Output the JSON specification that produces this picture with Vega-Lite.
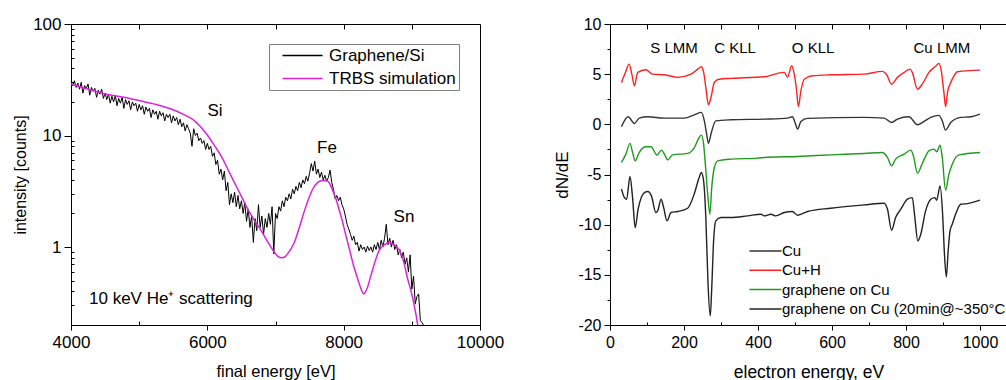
{
"$schema": "https://vega.github.io/schema/vega-lite/v6.json",
"padding": {"left": 12, "top": 14, "right": 0, "bottom": 0},
"bounds": "flush",
"spacing": 130,
"resolve": {"scale": {"color": "independent"}, "legend": {"color": "independent"}},
"config": {"font": "Liberation Sans", "view": {"stroke": null},
 "axis": {"labelColor": "black", "tickColor": "black", "domainColor": "black", "titleColor": "black", "titleFontWeight": "normal", "grid": false, "labelFont": "Liberation Sans", "titleFont": "Liberation Sans", "labelOverlap": false, "labelFlush": false},
 "legend": {"labelFont": "Liberation Sans", "labelColor": "black"}},
"datasets": {
"graphene": [
{"e":4000,"v":30,"s":"Graphene/Si"},{"e":4025,"v":28,"s":"Graphene/Si"},{"e":4050,"v":31,"s":"Graphene/Si"},{"e":4075,"v":27,"s":"Graphene/Si"},{"e":4100,"v":29.5,"s":"Graphene/Si"},{"e":4125,"v":26,"s":"Graphene/Si"},{"e":4150,"v":30,"s":"Graphene/Si"},{"e":4175,"v":24,"s":"Graphene/Si"},{"e":4200,"v":28,"s":"Graphene/Si"},{"e":4225,"v":26.5,"s":"Graphene/Si"},
{"e":4250,"v":29,"s":"Graphene/Si"},{"e":4275,"v":23,"s":"Graphene/Si"},{"e":4300,"v":27,"s":"Graphene/Si"},{"e":4325,"v":25,"s":"Graphene/Si"},{"e":4350,"v":26.5,"s":"Graphene/Si"},{"e":4375,"v":22,"s":"Graphene/Si"},{"e":4400,"v":25.5,"s":"Graphene/Si"},{"e":4425,"v":23.5,"s":"Graphene/Si"},{"e":4450,"v":26,"s":"Graphene/Si"},{"e":4475,"v":21.5,"s":"Graphene/Si"},
{"e":4500,"v":24,"s":"Graphene/Si"},{"e":4525,"v":21,"s":"Graphene/Si"},{"e":4550,"v":23.5,"s":"Graphene/Si"},{"e":4575,"v":19.5,"s":"Graphene/Si"},{"e":4600,"v":22.5,"s":"Graphene/Si"},{"e":4625,"v":20,"s":"Graphene/Si"},{"e":4650,"v":23,"s":"Graphene/Si"},{"e":4675,"v":18.5,"s":"Graphene/Si"},{"e":4700,"v":21.5,"s":"Graphene/Si"},{"e":4725,"v":19.5,"s":"Graphene/Si"},
{"e":4750,"v":22,"s":"Graphene/Si"},{"e":4775,"v":17.5,"s":"Graphene/Si"},{"e":4800,"v":21,"s":"Graphene/Si"},{"e":4825,"v":19,"s":"Graphene/Si"},{"e":4850,"v":20.5,"s":"Graphene/Si"},{"e":4875,"v":17,"s":"Graphene/Si"},{"e":4900,"v":20,"s":"Graphene/Si"},{"e":4925,"v":18.5,"s":"Graphene/Si"},{"e":4950,"v":19.5,"s":"Graphene/Si"},{"e":4975,"v":16.5,"s":"Graphene/Si"},
{"e":5000,"v":19,"s":"Graphene/Si"},{"e":5025,"v":17,"s":"Graphene/Si"},{"e":5050,"v":18.5,"s":"Graphene/Si"},{"e":5075,"v":15.5,"s":"Graphene/Si"},{"e":5100,"v":18,"s":"Graphene/Si"},{"e":5125,"v":16.5,"s":"Graphene/Si"},{"e":5150,"v":17.5,"s":"Graphene/Si"},{"e":5175,"v":14.5,"s":"Graphene/Si"},{"e":5200,"v":17,"s":"Graphene/Si"},{"e":5225,"v":15.5,"s":"Graphene/Si"},
{"e":5250,"v":16.5,"s":"Graphene/Si"},{"e":5275,"v":14,"s":"Graphene/Si"},{"e":5300,"v":16.5,"s":"Graphene/Si"},{"e":5325,"v":15,"s":"Graphene/Si"},{"e":5350,"v":16,"s":"Graphene/Si"},{"e":5375,"v":13.5,"s":"Graphene/Si"},{"e":5400,"v":15.5,"s":"Graphene/Si"},{"e":5425,"v":14.5,"s":"Graphene/Si"},{"e":5450,"v":15.5,"s":"Graphene/Si"},{"e":5475,"v":13,"s":"Graphene/Si"},
{"e":5500,"v":15,"s":"Graphene/Si"},{"e":5525,"v":13.5,"s":"Graphene/Si"},{"e":5550,"v":14.5,"s":"Graphene/Si"},{"e":5575,"v":12.5,"s":"Graphene/Si"},{"e":5600,"v":14,"s":"Graphene/Si"},{"e":5625,"v":12,"s":"Graphene/Si"},{"e":5650,"v":13,"s":"Graphene/Si"},{"e":5675,"v":11,"s":"Graphene/Si"},{"e":5700,"v":12.5,"s":"Graphene/Si"},{"e":5725,"v":11.5,"s":"Graphene/Si"},
{"e":5750,"v":10.5,"s":"Graphene/Si"},{"e":5775,"v":8,"s":"Graphene/Si"},{"e":5800,"v":11.5,"s":"Graphene/Si"},{"e":5825,"v":10,"s":"Graphene/Si"},{"e":5850,"v":10.5,"s":"Graphene/Si"},{"e":5875,"v":9,"s":"Graphene/Si"},{"e":5900,"v":9.5,"s":"Graphene/Si"},{"e":5925,"v":8.5,"s":"Graphene/Si"},{"e":5950,"v":9,"s":"Graphene/Si"},{"e":5975,"v":7.5,"s":"Graphene/Si"},
{"e":6000,"v":8.5,"s":"Graphene/Si"},{"e":6025,"v":7.5,"s":"Graphene/Si"},{"e":6050,"v":8,"s":"Graphene/Si"},{"e":6075,"v":6.5,"s":"Graphene/Si"},{"e":6100,"v":7,"s":"Graphene/Si"},{"e":6125,"v":5.5,"s":"Graphene/Si"},{"e":6150,"v":6,"s":"Graphene/Si"},{"e":6175,"v":4.5,"s":"Graphene/Si"},{"e":6200,"v":5,"s":"Graphene/Si"},{"e":6225,"v":4,"s":"Graphene/Si"},
{"e":6250,"v":4.8,"s":"Graphene/Si"},{"e":6275,"v":3.2,"s":"Graphene/Si"},{"e":6300,"v":3.8,"s":"Graphene/Si"},{"e":6325,"v":2.4,"s":"Graphene/Si"},{"e":6350,"v":3.0,"s":"Graphene/Si"},{"e":6375,"v":2.5,"s":"Graphene/Si"},{"e":6400,"v":3.1,"s":"Graphene/Si"},{"e":6425,"v":2.3,"s":"Graphene/Si"},{"e":6450,"v":2.9,"s":"Graphene/Si"},{"e":6475,"v":2.2,"s":"Graphene/Si"},
{"e":6500,"v":2.6,"s":"Graphene/Si"},{"e":6525,"v":2.0,"s":"Graphene/Si"},{"e":6550,"v":2.5,"s":"Graphene/Si"},{"e":6575,"v":1.7,"s":"Graphene/Si"},{"e":6600,"v":2.2,"s":"Graphene/Si"},{"e":6625,"v":1.5,"s":"Graphene/Si"},{"e":6650,"v":1.9,"s":"Graphene/Si"},{"e":6675,"v":1.1,"s":"Graphene/Si"},{"e":6700,"v":1.8,"s":"Graphene/Si"},{"e":6725,"v":1.4,"s":"Graphene/Si"},
{"e":6750,"v":2.4,"s":"Graphene/Si"},{"e":6775,"v":1.5,"s":"Graphene/Si"},{"e":6800,"v":1.9,"s":"Graphene/Si"},{"e":6825,"v":1.3,"s":"Graphene/Si"},{"e":6850,"v":1.8,"s":"Graphene/Si"},{"e":6875,"v":1.5,"s":"Graphene/Si"},{"e":6900,"v":2.0,"s":"Graphene/Si"},{"e":6925,"v":1.6,"s":"Graphene/Si"},{"e":6950,"v":2.3,"s":"Graphene/Si"},{"e":6975,"v":0.87,"s":"Graphene/Si"},
{"e":7000,"v":2.0,"s":"Graphene/Si"},{"e":7025,"v":1.8,"s":"Graphene/Si"},{"e":7050,"v":2.3,"s":"Graphene/Si"},{"e":7075,"v":2.1,"s":"Graphene/Si"},{"e":7100,"v":2.6,"s":"Graphene/Si"},{"e":7125,"v":2.3,"s":"Graphene/Si"},{"e":7150,"v":2.8,"s":"Graphene/Si"},{"e":7175,"v":2.6,"s":"Graphene/Si"},{"e":7200,"v":3.0,"s":"Graphene/Si"},{"e":7225,"v":2.7,"s":"Graphene/Si"},
{"e":7250,"v":3.3,"s":"Graphene/Si"},{"e":7275,"v":3.0,"s":"Graphene/Si"},{"e":7300,"v":3.5,"s":"Graphene/Si"},{"e":7325,"v":3.2,"s":"Graphene/Si"},{"e":7350,"v":3.8,"s":"Graphene/Si"},{"e":7375,"v":3.4,"s":"Graphene/Si"},{"e":7400,"v":4.0,"s":"Graphene/Si"},{"e":7425,"v":3.7,"s":"Graphene/Si"},{"e":7450,"v":4.3,"s":"Graphene/Si"},{"e":7475,"v":3.9,"s":"Graphene/Si"},
{"e":7500,"v":4.6,"s":"Graphene/Si"},{"e":7525,"v":5.6,"s":"Graphene/Si"},{"e":7550,"v":4.8,"s":"Graphene/Si"},{"e":7575,"v":5.9,"s":"Graphene/Si"},{"e":7600,"v":4.5,"s":"Graphene/Si"},{"e":7625,"v":5.0,"s":"Graphene/Si"},{"e":7650,"v":4.2,"s":"Graphene/Si"},{"e":7675,"v":4.7,"s":"Graphene/Si"},{"e":7700,"v":4.0,"s":"Graphene/Si"},{"e":7725,"v":4.4,"s":"Graphene/Si"},
{"e":7750,"v":3.9,"s":"Graphene/Si"},{"e":7775,"v":4.2,"s":"Graphene/Si"},{"e":7800,"v":4.9,"s":"Graphene/Si"},{"e":7825,"v":3.8,"s":"Graphene/Si"},{"e":7850,"v":3.3,"s":"Graphene/Si"},{"e":7875,"v":2.7,"s":"Graphene/Si"},{"e":7900,"v":2.9,"s":"Graphene/Si"},{"e":7925,"v":2.6,"s":"Graphene/Si"},{"e":7950,"v":2.8,"s":"Graphene/Si"},{"e":7975,"v":2.4,"s":"Graphene/Si"},
{"e":8000,"v":2.2,"s":"Graphene/Si"},{"e":8025,"v":1.9,"s":"Graphene/Si"},{"e":8050,"v":1.6,"s":"Graphene/Si"},{"e":8075,"v":1.45,"s":"Graphene/Si"},{"e":8100,"v":1.3,"s":"Graphene/Si"},{"e":8125,"v":1.15,"s":"Graphene/Si"},{"e":8150,"v":1.25,"s":"Graphene/Si"},{"e":8175,"v":1.05,"s":"Graphene/Si"},{"e":8200,"v":1.1,"s":"Graphene/Si"},{"e":8225,"v":0.92,"s":"Graphene/Si"},
{"e":8250,"v":1.05,"s":"Graphene/Si"},{"e":8275,"v":0.95,"s":"Graphene/Si"},{"e":8300,"v":1.0,"s":"Graphene/Si"},{"e":8325,"v":0.9,"s":"Graphene/Si"},{"e":8350,"v":1.02,"s":"Graphene/Si"},{"e":8375,"v":0.93,"s":"Graphene/Si"},{"e":8400,"v":1.0,"s":"Graphene/Si"},{"e":8425,"v":0.9,"s":"Graphene/Si"},{"e":8450,"v":1.05,"s":"Graphene/Si"},{"e":8475,"v":0.95,"s":"Graphene/Si"},
{"e":8500,"v":1.1,"s":"Graphene/Si"},{"e":8525,"v":0.95,"s":"Graphene/Si"},{"e":8550,"v":1.15,"s":"Graphene/Si"},{"e":8575,"v":1.0,"s":"Graphene/Si"},{"e":8600,"v":1.2,"s":"Graphene/Si"},{"e":8625,"v":1.6,"s":"Graphene/Si"},{"e":8650,"v":1.05,"s":"Graphene/Si"},{"e":8675,"v":1.2,"s":"Graphene/Si"},{"e":8700,"v":1.0,"s":"Graphene/Si"},{"e":8725,"v":1.15,"s":"Graphene/Si"},
{"e":8750,"v":0.95,"s":"Graphene/Si"},{"e":8775,"v":1.05,"s":"Graphene/Si"},{"e":8800,"v":0.85,"s":"Graphene/Si"},{"e":8825,"v":0.95,"s":"Graphene/Si"},{"e":8850,"v":0.8,"s":"Graphene/Si"},{"e":8875,"v":0.9,"s":"Graphene/Si"},{"e":8900,"v":0.7,"s":"Graphene/Si"},{"e":8925,"v":0.8,"s":"Graphene/Si"},{"e":8950,"v":0.6,"s":"Graphene/Si"},{"e":8975,"v":0.85,"s":"Graphene/Si"},
{"e":9000,"v":0.42,"s":"Graphene/Si"},{"e":9025,"v":0.55,"s":"Graphene/Si"},{"e":9050,"v":0.31,"s":"Graphene/Si"},{"e":9075,"v":0.36,"s":"Graphene/Si"},{"e":9100,"v":0.38,"s":"Graphene/Si"},{"e":9125,"v":0.22,"s":"Graphene/Si"},{"e":9150,"v":0.21,"s":"Graphene/Si"},{"e":9170,"v":0.2,"s":"Graphene/Si"}
],
"trbs": [
{"e":4000,"v":29,"s":"TRBS simulation"},{"e":4250,"v":26,"s":"TRBS simulation"},{"e":4500,"v":23.6,"s":"TRBS simulation"},{"e":4750,"v":22.2,"s":"TRBS simulation"},{"e":5000,"v":20.6,"s":"TRBS simulation"},{"e":5250,"v":19.0,"s":"TRBS simulation"},{"e":5467,"v":17.3,"s":"TRBS simulation"},{"e":5650,"v":15.5,"s":"TRBS simulation"},{"e":5809,"v":13.6,"s":"TRBS simulation"},{"e":5900,"v":12.0,"s":"TRBS simulation"},
{"e":6005,"v":10,"s":"TRBS simulation"},{"e":6100,"v":8.2,"s":"TRBS simulation"},{"e":6200,"v":6.6,"s":"TRBS simulation"},{"e":6300,"v":5.0,"s":"TRBS simulation"},{"e":6396,"v":3.8,"s":"TRBS simulation"},{"e":6500,"v":2.85,"s":"TRBS simulation"},{"e":6591,"v":2.2,"s":"TRBS simulation"},{"e":6700,"v":1.7,"s":"TRBS simulation"},{"e":6787,"v":1.41,"s":"TRBS simulation"},{"e":6900,"v":1.08,"s":"TRBS simulation"},
{"e":6982,"v":0.9,"s":"TRBS simulation"},{"e":7040,"v":0.82,"s":"TRBS simulation"},{"e":7090,"v":0.8,"s":"TRBS simulation"},{"e":7150,"v":0.83,"s":"TRBS simulation"},{"e":7210,"v":0.93,"s":"TRBS simulation"},{"e":7276,"v":1.1,"s":"TRBS simulation"},{"e":7350,"v":1.5,"s":"TRBS simulation"},{"e":7423,"v":2.1,"s":"TRBS simulation"},{"e":7490,"v":2.75,"s":"TRBS simulation"},{"e":7545,"v":3.3,"s":"TRBS simulation"},
{"e":7620,"v":3.8,"s":"TRBS simulation"},{"e":7692,"v":3.96,"s":"TRBS simulation"},{"e":7750,"v":3.92,"s":"TRBS simulation"},{"e":7790,"v":3.75,"s":"TRBS simulation"},{"e":7840,"v":3.2,"s":"TRBS simulation"},{"e":7887,"v":2.7,"s":"TRBS simulation"},{"e":7935,"v":2.15,"s":"TRBS simulation"},{"e":7985,"v":1.67,"s":"TRBS simulation"},{"e":8035,"v":1.25,"s":"TRBS simulation"},{"e":8082,"v":0.97,"s":"TRBS simulation"},
{"e":8140,"v":0.7,"s":"TRBS simulation"},{"e":8205,"v":0.52,"s":"TRBS simulation"},{"e":8250,"v":0.43,"s":"TRBS simulation"},{"e":8294,"v":0.38,"s":"TRBS simulation"},{"e":8340,"v":0.42,"s":"TRBS simulation"},{"e":8401,"v":0.56,"s":"TRBS simulation"},{"e":8460,"v":0.74,"s":"TRBS simulation"},{"e":8523,"v":0.94,"s":"TRBS simulation"},{"e":8600,"v":1.05,"s":"TRBS simulation"},{"e":8666,"v":1.1,"s":"TRBS simulation"},
{"e":8740,"v":1.05,"s":"TRBS simulation"},{"e":8816,"v":0.94,"s":"TRBS simulation"},{"e":8880,"v":0.74,"s":"TRBS simulation"},{"e":8938,"v":0.52,"s":"TRBS simulation"},{"e":8990,"v":0.4,"s":"TRBS simulation"},{"e":9035,"v":0.3,"s":"TRBS simulation"},{"e":9065,"v":0.24,"s":"TRBS simulation"},{"e":9086,"v":0.2,"s":"TRBS simulation"}
],
"leftText": [
{"e":6112,"v":16.5,"t":"Si"},{"e":7756,"v":7.7,"t":"Fe"},{"e":8885,"v":1.86,"t":"Sn"}
],
"leftNote": [
{"e":4264,"v":0.342,"t":"10 keV He⁺ scattering"}
],
"cu": [
{"e":31,"y":-0.24,"s":"Cu"},{"e":49,"y":0.75,"s":"Cu"},{"e":66,"y":0.09,"s":"Cu"},{"e":79,"y":0.62,"s":"Cu"},{"e":102,"y":0.75,"s":"Cu"},{"e":147,"y":0.62,"s":"Cu"},{"e":201,"y":0.62,"s":"Cu"},{"e":228,"y":0.95,"s":"Cu"},{"e":247,"y":1.19,"s":"Cu"},{"e":255,"y":0.35,"s":"Cu"},
{"e":262,"y":-1.14,"s":"Cu"},{"e":266,"y":-1.9,"s":"Cu"},{"e":274,"y":-0.81,"s":"Cu"},{"e":286,"y":0.35,"s":"Cu"},{"e":327,"y":0.45,"s":"Cu"},{"e":417,"y":0.52,"s":"Cu"},{"e":480,"y":0.62,"s":"Cu"},{"e":493,"y":0.75,"s":"Cu"},{"e":500,"y":0.19,"s":"Cu"},{"e":507,"y":-0.48,"s":"Cu"},
{"e":516,"y":0.29,"s":"Cu"},{"e":534,"y":0.59,"s":"Cu"},{"e":687,"y":0.69,"s":"Cu"},{"e":741,"y":0.62,"s":"Cu"},{"e":761,"y":0.19,"s":"Cu"},{"e":777,"y":0.52,"s":"Cu"},{"e":808,"y":0.75,"s":"Cu"},{"e":831,"y":-0.04,"s":"Cu"},{"e":849,"y":0.29,"s":"Cu"},{"e":867,"y":0.69,"s":"Cu"},
{"e":889,"y":0.89,"s":"Cu"},{"e":898,"y":0.35,"s":"Cu"},{"e":907,"y":-0.58,"s":"Cu"},{"e":921,"y":0.19,"s":"Cu"},{"e":948,"y":0.69,"s":"Cu"},{"e":975,"y":0.75,"s":"Cu"},{"e":1000,"y":1.02,"s":"Cu"}
],
"cuh": [
{"e":31,"y":4.18,"s":"Cu+H"},{"e":42,"y":5.2,"s":"Cu+H"},{"e":52,"y":6.0,"s":"Cu+H"},{"e":59,"y":5.0,"s":"Cu+H"},{"e":66,"y":3.85,"s":"Cu+H"},{"e":75,"y":5.18,"s":"Cu+H"},{"e":97,"y":5.44,"s":"Cu+H"},{"e":115,"y":5.0,"s":"Cu+H"},{"e":147,"y":4.94,"s":"Cu+H"},{"e":183,"y":4.68,"s":"Cu+H"},
{"e":219,"y":5.0,"s":"Cu+H"},{"e":237,"y":5.5,"s":"Cu+H"},{"e":247,"y":5.74,"s":"Cu+H"},{"e":253,"y":5.2,"s":"Cu+H"},{"e":259,"y":3.68,"s":"Cu+H"},{"e":266,"y":1.95,"s":"Cu+H"},{"e":273,"y":2.7,"s":"Cu+H"},{"e":282,"y":4.2,"s":"Cu+H"},{"e":295,"y":4.5,"s":"Cu+H"},{"e":327,"y":4.58,"s":"Cu+H"},
{"e":417,"y":4.74,"s":"Cu+H"},{"e":471,"y":5.18,"s":"Cu+H"},{"e":480,"y":4.7,"s":"Cu+H"},{"e":491,"y":5.84,"s":"Cu+H"},{"e":498,"y":5.0,"s":"Cu+H"},{"e":504,"y":3.5,"s":"Cu+H"},{"e":509,"y":1.78,"s":"Cu+H"},{"e":516,"y":3.35,"s":"Cu+H"},{"e":525,"y":4.5,"s":"Cu+H"},{"e":547,"y":4.84,"s":"Cu+H"},
{"e":597,"y":4.94,"s":"Cu+H"},{"e":687,"y":5.0,"s":"Cu+H"},{"e":736,"y":5.28,"s":"Cu+H"},{"e":748,"y":4.94,"s":"Cu+H"},{"e":761,"y":4.0,"s":"Cu+H"},{"e":777,"y":4.68,"s":"Cu+H"},{"e":795,"y":5.18,"s":"Cu+H"},{"e":811,"y":5.5,"s":"Cu+H"},{"e":817,"y":5.18,"s":"Cu+H"},{"e":831,"y":3.5,"s":"Cu+H"},
{"e":844,"y":4.0,"s":"Cu+H"},{"e":862,"y":5.18,"s":"Cu+H"},{"e":880,"y":5.78,"s":"Cu+H"},{"e":889,"y":6.08,"s":"Cu+H"},{"e":896,"y":5.18,"s":"Cu+H"},{"e":903,"y":3.0,"s":"Cu+H"},{"e":907,"y":1.78,"s":"Cu+H"},{"e":913,"y":3.35,"s":"Cu+H"},{"e":919,"y":4.0,"s":"Cu+H"},{"e":925,"y":4.5,"s":"Cu+H"},
{"e":939,"y":5.24,"s":"Cu+H"},{"e":1000,"y":5.4,"s":"Cu+H"}
],
"gcu": [
{"e":31,"y":-3.8,"s":"graphene on Cu"},{"e":43,"y":-2.97,"s":"graphene on Cu"},{"e":54,"y":-1.9,"s":"graphene on Cu"},{"e":61,"y":-2.8,"s":"graphene on Cu"},{"e":68,"y":-3.64,"s":"graphene on Cu"},{"e":79,"y":-2.8,"s":"graphene on Cu"},{"e":97,"y":-2.24,"s":"graphene on Cu"},{"e":111,"y":-2.24,"s":"graphene on Cu"},{"e":124,"y":-2.97,"s":"graphene on Cu"},{"e":127,"y":-3.07,"s":"graphene on Cu"},
{"e":139,"y":-2.57,"s":"graphene on Cu"},{"e":147,"y":-2.97,"s":"graphene on Cu"},{"e":156,"y":-3.54,"s":"graphene on Cu"},{"e":169,"y":-3.04,"s":"graphene on Cu"},{"e":210,"y":-2.9,"s":"graphene on Cu"},{"e":228,"y":-2.31,"s":"graphene on Cu"},{"e":241,"y":-1.31,"s":"graphene on Cu"},{"e":247,"y":-1.08,"s":"graphene on Cu"},{"e":253,"y":-1.97,"s":"graphene on Cu"},{"e":257,"y":-3.64,"s":"graphene on Cu"},
{"e":264,"y":-6.96,"s":"graphene on Cu"},{"e":270,"y":-8.96,"s":"graphene on Cu"},{"e":275,"y":-6.3,"s":"graphene on Cu"},{"e":282,"y":-4.3,"s":"graphene on Cu"},{"e":291,"y":-3.64,"s":"graphene on Cu"},{"e":327,"y":-3.47,"s":"graphene on Cu"},{"e":399,"y":-3.37,"s":"graphene on Cu"},{"e":417,"y":-3.3,"s":"graphene on Cu"},{"e":507,"y":-3.2,"s":"graphene on Cu"},{"e":597,"y":-3.04,"s":"graphene on Cu"},
{"e":687,"y":-2.9,"s":"graphene on Cu"},{"e":736,"y":-2.8,"s":"graphene on Cu"},{"e":750,"y":-3.3,"s":"graphene on Cu"},{"e":761,"y":-4.14,"s":"graphene on Cu"},{"e":772,"y":-3.47,"s":"graphene on Cu"},{"e":795,"y":-2.97,"s":"graphene on Cu"},{"e":813,"y":-2.57,"s":"graphene on Cu"},{"e":820,"y":-3.14,"s":"graphene on Cu"},{"e":831,"y":-4.87,"s":"graphene on Cu"},{"e":844,"y":-3.9,"s":"graphene on Cu"},
{"e":862,"y":-2.64,"s":"graphene on Cu"},{"e":876,"y":-2.47,"s":"graphene on Cu"},{"e":883,"y":-2.74,"s":"graphene on Cu"},{"e":892,"y":-2.07,"s":"graphene on Cu"},{"e":898,"y":-3.3,"s":"graphene on Cu"},{"e":907,"y":-6.56,"s":"graphene on Cu"},{"e":916,"y":-4.97,"s":"graphene on Cu"},{"e":925,"y":-3.97,"s":"graphene on Cu"},{"e":943,"y":-3.04,"s":"graphene on Cu"},{"e":1000,"y":-2.8,"s":"graphene on Cu"}
],
"gcu20": [
{"e":31,"y":-6.46,"s":"graphene on Cu (20min@~350°C"},{"e":39,"y":-7.3,"s":"graphene on Cu (20min@~350°C"},{"e":45,"y":-7.46,"s":"graphene on Cu (20min@~350°C"},{"e":54,"y":-5.2,"s":"graphene on Cu (20min@~350°C"},{"e":61,"y":-7.3,"s":"graphene on Cu (20min@~350°C"},{"e":68,"y":-10.29,"s":"graphene on Cu (20min@~350°C"},{"e":76,"y":-8.46,"s":"graphene on Cu (20min@~350°C"},{"e":93,"y":-6.8,"s":"graphene on Cu (20min@~350°C"},{"e":102,"y":-6.7,"s":"graphene on Cu (20min@~350°C"},{"e":112,"y":-7.13,"s":"graphene on Cu (20min@~350°C"},
{"e":124,"y":-8.79,"s":"graphene on Cu (20min@~350°C"},{"e":129,"y":-8.63,"s":"graphene on Cu (20min@~350°C"},{"e":138,"y":-7.46,"s":"graphene on Cu (20min@~350°C"},{"e":145,"y":-8.29,"s":"graphene on Cu (20min@~350°C"},{"e":154,"y":-9.62,"s":"graphene on Cu (20min@~350°C"},{"e":165,"y":-8.79,"s":"graphene on Cu (20min@~350°C"},{"e":183,"y":-8.69,"s":"graphene on Cu (20min@~350°C"},{"e":210,"y":-8.36,"s":"graphene on Cu (20min@~350°C"},{"e":228,"y":-6.9,"s":"graphene on Cu (20min@~350°C"},{"e":241,"y":-5.3,"s":"graphene on Cu (20min@~350°C"},
{"e":247,"y":-4.8,"s":"graphene on Cu (20min@~350°C"},{"e":253,"y":-5.63,"s":"graphene on Cu (20min@~350°C"},{"e":259,"y":-9.29,"s":"graphene on Cu (20min@~350°C"},{"e":265,"y":-15.94,"s":"graphene on Cu (20min@~350°C"},{"e":271,"y":-19.1,"s":"graphene on Cu (20min@~350°C"},{"e":275,"y":-16.3,"s":"graphene on Cu (20min@~350°C"},{"e":280,"y":-11.62,"s":"graphene on Cu (20min@~350°C"},{"e":286,"y":-9.62,"s":"graphene on Cu (20min@~350°C"},{"e":300,"y":-9.29,"s":"graphene on Cu (20min@~350°C"},{"e":327,"y":-9.29,"s":"graphene on Cu (20min@~350°C"},
{"e":372,"y":-9.12,"s":"graphene on Cu (20min@~350°C"},{"e":408,"y":-8.96,"s":"graphene on Cu (20min@~350°C"},{"e":417,"y":-9.12,"s":"graphene on Cu (20min@~350°C"},{"e":435,"y":-8.96,"s":"graphene on Cu (20min@~350°C"},{"e":448,"y":-9.12,"s":"graphene on Cu (20min@~350°C"},{"e":471,"y":-8.79,"s":"graphene on Cu (20min@~350°C"},{"e":493,"y":-8.69,"s":"graphene on Cu (20min@~350°C"},{"e":507,"y":-9.06,"s":"graphene on Cu (20min@~350°C"},{"e":534,"y":-8.69,"s":"graphene on Cu (20min@~350°C"},{"e":597,"y":-8.36,"s":"graphene on Cu (20min@~350°C"},
{"e":687,"y":-8.03,"s":"graphene on Cu (20min@~350°C"},{"e":741,"y":-7.86,"s":"graphene on Cu (20min@~350°C"},{"e":750,"y":-8.46,"s":"graphene on Cu (20min@~350°C"},{"e":761,"y":-10.55,"s":"graphene on Cu (20min@~350°C"},{"e":772,"y":-9.29,"s":"graphene on Cu (20min@~350°C"},{"e":786,"y":-8.46,"s":"graphene on Cu (20min@~350°C"},{"e":804,"y":-7.46,"s":"graphene on Cu (20min@~350°C"},{"e":817,"y":-7.3,"s":"graphene on Cu (20min@~350°C"},{"e":823,"y":-8.96,"s":"graphene on Cu (20min@~350°C"},{"e":832,"y":-11.62,"s":"graphene on Cu (20min@~350°C"},
{"e":840,"y":-10.95,"s":"graphene on Cu (20min@~350°C"},{"e":853,"y":-8.63,"s":"graphene on Cu (20min@~350°C"},{"e":867,"y":-7.46,"s":"graphene on Cu (20min@~350°C"},{"e":878,"y":-7.3,"s":"graphene on Cu (20min@~350°C"},{"e":883,"y":-7.56,"s":"graphene on Cu (20min@~350°C"},{"e":892,"y":-6.13,"s":"graphene on Cu (20min@~350°C"},{"e":899,"y":-8.96,"s":"graphene on Cu (20min@~350°C"},{"e":904,"y":-12.95,"s":"graphene on Cu (20min@~350°C"},{"e":909,"y":-15.21,"s":"graphene on Cu (20min@~350°C"},{"e":914,"y":-12.62,"s":"graphene on Cu (20min@~350°C"},
{"e":919,"y":-10.62,"s":"graphene on Cu (20min@~350°C"},{"e":925,"y":-9.96,"s":"graphene on Cu (20min@~350°C"},{"e":934,"y":-8.96,"s":"graphene on Cu (20min@~350°C"},{"e":948,"y":-7.96,"s":"graphene on Cu (20min@~350°C"},{"e":966,"y":-7.9,"s":"graphene on Cu (20min@~350°C"},{"e":1000,"y":-7.56,"s":"graphene on Cu (20min@~350°C"}
],
"rightText": [
{"e":173,"y":7.6,"t":"S LMM"},{"e":338,"y":7.6,"t":"C KLL"},{"e":549,"y":7.6,"t":"O KLL"},{"e":897,"y":7.6,"t":"Cu LMM"}
]
},
"hconcat": [
{
"width": 409, "height": 301,
"view": {"stroke": "black", "strokeWidth": 1},
"resolve": {"axis": {"x": "independent", "y": "independent"}},
"layer": [
{"data": {"name": "graphene"}, "mark": {"type": "line", "strokeWidth": 1, "clip": true},
 "encoding": {
  "x": {"field": "e", "type": "quantitative", "scale": {"domain": [4000, 10000], "nice": false, "zero": false},
   "axis": {"orient": "bottom", "values": [4000, 6000, 8000, 10000], "format": "d", "tickSize": 5, "labelPadding": 4, "labelFontSize": 17, "domain": false, "title": "final energy [eV]", "titleFontSize": 16.5, "titlePadding": 13}},
  "y": {"field": "v", "type": "quantitative", "scale": {"type": "log", "domain": [0.2, 100], "nice": false},
   "axis": {"orient": "left", "values": [1, 10, 100], "format": "d", "tickSize": 7, "labelPadding": 3, "labelFontSize": 17, "domain": false, "title": "intensity [counts]", "titleFontSize": 16, "titlePadding": 4}},
  "color": {"field": "s", "type": "nominal", "scale": {"domain": ["Graphene/Si", "TRBS simulation"], "range": ["#000000", "#dd22dd"]},
   "legend": {"title": null, "orient": "none", "legendX": 198, "legendY": 20, "symbolType": "M-4,0H4", "symbolSize": 100, "symbolStrokeWidth": 1.4, "symbolOffset": 22, "labelOffset": 18, "labelFontSize": 17, "rowPadding": 5, "padding": 3, "strokeColor": "#808080", "fillColor": "white", "labelLimit": 300}}
 }},
{"data": {"name": "trbs"}, "mark": {"type": "line", "strokeWidth": 1.5, "interpolate": "monotone", "clip": true},
 "encoding": {
  "x": {"field": "e", "type": "quantitative", "axis": {"orient": "bottom", "values": [5000, 7000, 9000], "tickSize": -4, "labels": false, "domain": false, "title": null}},
  "y": {"field": "v", "type": "quantitative", "axis": {"orient": "left", "values": [0.3,0.4,0.5,0.6,0.7,0.8,0.9,2,3,4,5,6,7,8,9,20,30,40,50,60,70,80,90], "tickSize": -3, "labels": false, "domain": false, "title": null}},
  "color": {"field": "s", "type": "nominal"}
 }},
{"data": {"name": "leftText"}, "mark": {"type": "text", "fontSize": 17, "align": "center", "baseline": "middle", "color": "black"},
 "encoding": {
  "x": {"field": "e", "type": "quantitative", "axis": {"orient": "top", "values": [5000, 6000, 7000, 8000, 9000], "tickSize": -5, "labels": false, "domain": false, "title": null}},
  "y": {"field": "v", "type": "quantitative", "axis": null},
  "text": {"field": "t"}
 }},
{"data": {"name": "leftNote"}, "mark": {"type": "text", "fontSize": 17, "align": "left", "baseline": "middle", "color": "black"},
 "encoding": {
  "x": {"field": "e", "type": "quantitative", "axis": null},
  "y": {"field": "v", "type": "quantitative", "axis": null},
  "text": {"field": "t"}
 }}
]
},
{
"width": 397, "height": 301,
"resolve": {"axis": {"x": "independent", "y": "independent"}},
"layer": [
{"data": {"name": "cu"}, "mark": {"type": "line", "strokeWidth": 1.4, "interpolate": "monotone"},
 "encoding": {
  "x": {"field": "e", "type": "quantitative", "scale": {"domain": [0, 1073], "nice": false},
   "axis": {"orient": "bottom", "values": [0, 200, 400, 600, 800, 1000], "format": "d", "tickSize": 5, "labelPadding": 4, "labelFontSize": 16, "domain": true, "title": "electron energy, eV", "titleFontSize": 17.5, "titlePadding": 13}},
  "y": {"field": "y", "type": "quantitative", "scale": {"domain": [-20, 10], "nice": false},
   "axis": {"orient": "left", "values": [-20, -15, -10, -5, 0, 5, 10], "labelExpr": "'' + datum.value", "tickSize": 6, "labelPadding": 3, "labelFontSize": 16, "domain": true, "title": "dN/dE", "titleFontSize": 17, "titlePadding": 6}},
  "color": {"field": "s", "type": "nominal", "scale": {"domain": ["Cu", "Cu+H", "graphene on Cu", "graphene on Cu (20min@~350°C"], "range": ["#333333", "#ff2020", "#1f9a1f", "#222222"]},
   "legend": {"title": null, "orient": "none", "legendX": 136, "legendY": 219.5, "symbolType": "M-4,0H4", "symbolSize": 64, "symbolStrokeWidth": 1.5, "symbolOffset": 12, "labelOffset": 9, "labelFontSize": 15, "rowPadding": 3.3, "padding": 0, "labelLimit": 400}}
 }},
{"data": {"name": "cuh"}, "mark": {"type": "line", "strokeWidth": 1.4, "interpolate": "monotone"},
 "encoding": {
  "x": {"field": "e", "type": "quantitative", "axis": {"orient": "bottom", "values": [100, 300, 500, 700, 900], "tickSize": -3, "labels": false, "domain": false, "title": null}},
  "y": {"field": "y", "type": "quantitative", "axis": {"orient": "left", "values": [-17.5, -12.5, -7.5, -2.5, 2.5, 7.5], "tickSize": 3, "labels": false, "domain": false, "title": null}},
  "color": {"field": "s", "type": "nominal"}
 }},
{"data": {"name": "gcu"}, "mark": {"type": "line", "strokeWidth": 1.4, "interpolate": "monotone"},
 "encoding": {
  "x": {"field": "e", "type": "quantitative", "axis": {"orient": "top", "values": [0, 100, 200, 300, 400, 500, 600, 700, 800, 900, 1000], "tickSize": -5, "labels": false, "domain": true, "title": null}},
  "y": {"field": "y", "type": "quantitative", "axis": null},
  "color": {"field": "s", "type": "nominal"}
 }},
{"data": {"name": "gcu20"}, "mark": {"type": "line", "strokeWidth": 1.4, "interpolate": "monotone"},
 "encoding": {
  "x": {"field": "e", "type": "quantitative", "axis": null},
  "y": {"field": "y", "type": "quantitative", "axis": null},
  "color": {"field": "s", "type": "nominal"}
 }},
{"data": {"name": "rightText"}, "mark": {"type": "text", "fontSize": 15, "align": "center", "baseline": "middle", "color": "black"},
 "encoding": {
  "x": {"field": "e", "type": "quantitative", "axis": null},
  "y": {"field": "y", "type": "quantitative", "axis": null},
  "text": {"field": "t"}
 }}
]
}
]
}
